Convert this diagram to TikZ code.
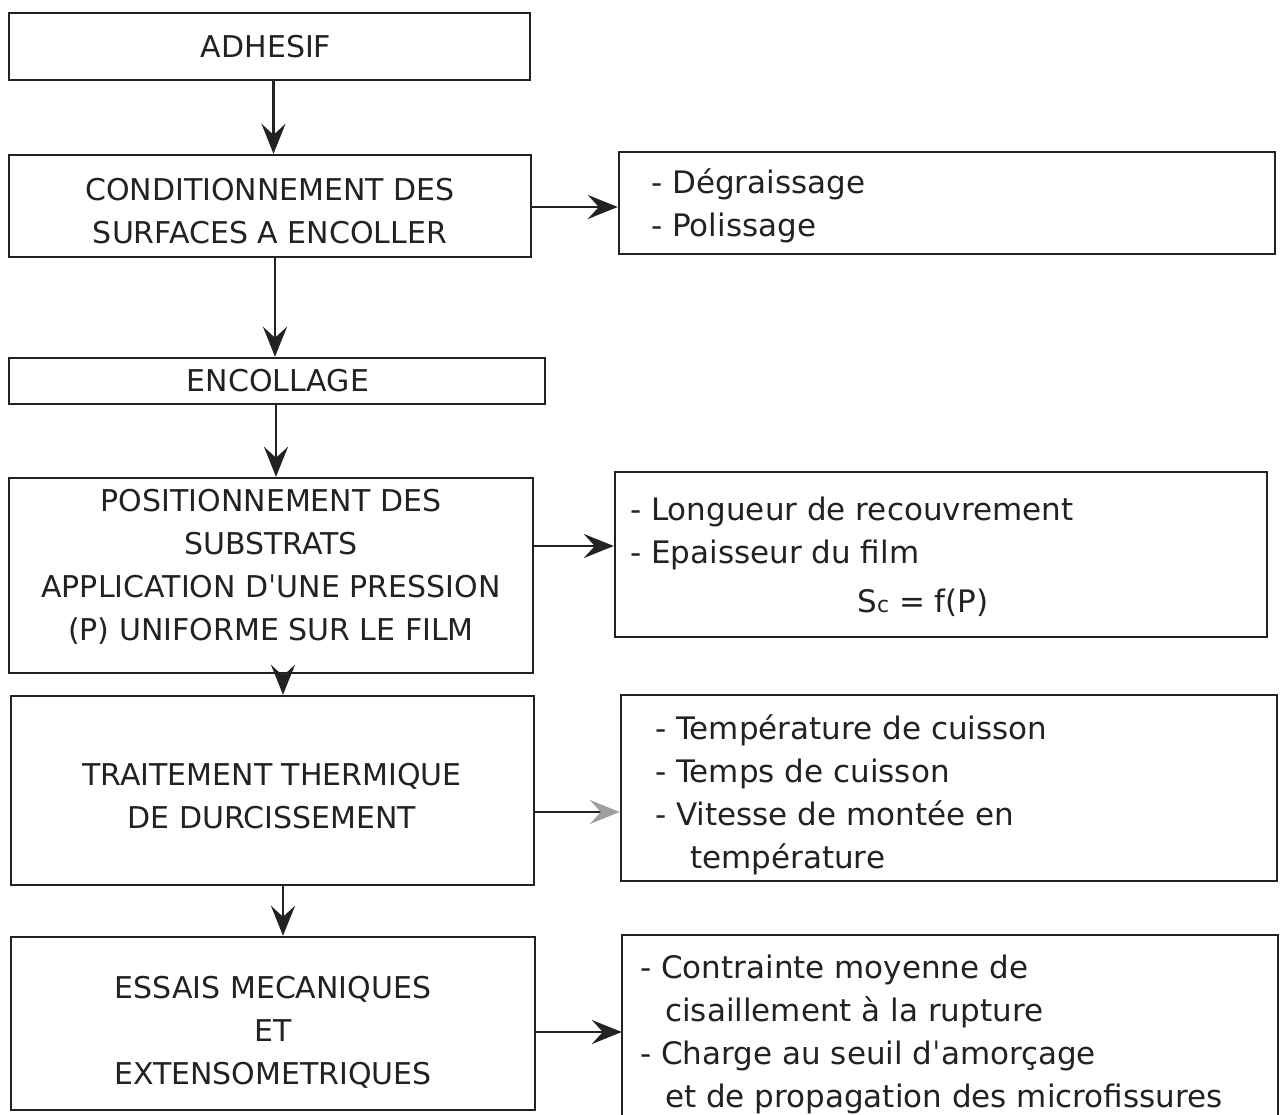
\documentclass[tikz,border=0pt]{standalone}
\usepackage{fontspec}
\setmainfont{DejaVu Sans}
\usetikzlibrary{arrows.meta}
\definecolor{ink}{HTML}{222222}
\newcommand{\apo}{ˈ}
\begin{document}
\begin{tikzpicture}[x=1pt,y=-1pt,
  box/.style={draw=ink, line width=2.4pt, inner sep=0pt},
  ctext/.style={inner sep=0pt, align=center, font=\fontsize{30}{43}\selectfont, text=ink},
  ltext/.style={inner sep=0pt, align=left, anchor=west, font=\fontsize{31}{43}\selectfont, text=ink},
  arr/.style={draw=ink, line width=2.4pt, -{Stealth[length=30pt,width=24pt,inset=11pt]}},
  garr/.style={draw=ink, line width=2.4pt, -{Stealth[length=30pt,width=24pt,inset=11pt,color=gray!75]}}]
\useasboundingbox (0,0) rectangle (1282,1115);
\fill[white] (0,0) rectangle (1282,1115);

% left column boxes
\node[box, minimum width=521pt, minimum height=67pt] (a) at (269.5,46.5) {};
\node[ctext] (at) at (266,46.5) {ADHESIF};

\node[box, minimum width=522pt, minimum height=102pt] (b) at (270,206) {};
\node[ctext] (bt) at (270,211) {CONDITIONNEMENT DES\\SURFACES A ENCOLLER};

\node[box, minimum width=536pt, minimum height=46pt] (c) at (277,381) {};
\node[ctext] (ct) at (278,381) {ENCOLLAGE};

\node[box, minimum width=524pt, minimum height=195pt] (d) at (271,575.5) {};
\node[ctext] (dt) at (271,567) {POSITIONNEMENT DES\\SUBSTRATS\\APPLICATION D\apo UNE PRESSION\\(P) UNIFORME SUR LE FILM};

\node[box, minimum width=523pt, minimum height=189pt] (e) at (272.5,790.5) {};
\node[ctext] (et) at (272,796) {TRAITEMENT THERMIQUE\\DE DURCISSEMENT};

\node[box, minimum width=524pt, minimum height=173pt] (f) at (273,1023.5) {};
\node[ctext] (ft) at (273,1032.5) {ESSAIS MECANIQUES\\ET\\EXTENSOMETRIQUES};

% right column boxes
\node[box, minimum width=656pt, minimum height=102pt] (bR) at (947,203) {};
\node[ltext] (bRt) at (651,206) {- Dégraissage\\- Polissage};

\node[box, minimum width=652pt, minimum height=165pt] (dR) at (941,554.5) {};
\node[ltext] (dRt) at (630,533) {- Longueur de recouvrement\\- Epaisseur du film};
\node[ctext, font=\fontsize{31}{43}\selectfont] (dRs) at (923,603) {S{\fontsize{22}{22}\selectfont c} = f(P)};

\node[box, minimum width=656pt, minimum height=186pt] (eR) at (949,788) {};
\node[ltext] (eRt) at (655,795) {- Température de cuisson\\- Temps de cuisson\\- Vitesse de montée en\\\hspace*{35pt}température};

\node[minimum width=656pt, minimum height=182pt, inner sep=0pt] (fR) at (950,1026) {};
\draw[ink, line width=2.4pt] (fR.south west) |- (fR.north east) -- (fR.south east);
\node[ltext] (fRt) at (640,1034) {- Contrainte moyenne de\\\hspace*{25pt}cisaillement à la rupture\\- Charge au seuil d\apo amorçage\\\hspace*{25pt}et de propagation des microfissures};

% vertical connectors
\coordinate (a1) at ([xshift=4pt]a.south);
\draw[arr] (a1) -- (a1 |- b.north);
\coordinate (b2) at ([xshift=5pt]b.south);
\draw[arr] (b2) -- (b2 |- c.north);
\coordinate (c1) at ([xshift=-1pt]c.south);
\draw[arr] (c1) -- (c1 |- d.north);
\coordinate (d2) at ([xshift=12pt]d.south);
\draw[arr] (d2) -- (d2 |- e.north);
\coordinate (e2) at ([xshift=10.5pt]e.south);
\draw[arr] (e2) -- (e2 |- f.north);

% horizontal connectors
\coordinate (b1) at ([yshift=-1pt]b.east);
\draw[arr] (b1) -- (b1 -| bR.west);
\coordinate (d1) at ([yshift=29.5pt]d.east);
\draw[arr] (d1) -- (d1 -| dR.west);
\coordinate (e1) at ([yshift=-21.5pt]e.east);
\draw[garr] (e1) -- (e1 -| eR.west);
\coordinate (f1) at ([yshift=-8.5pt]f.east);
\draw[arr] (f1) -- (f1 -| fR.west);
\end{tikzpicture}
\end{document}
